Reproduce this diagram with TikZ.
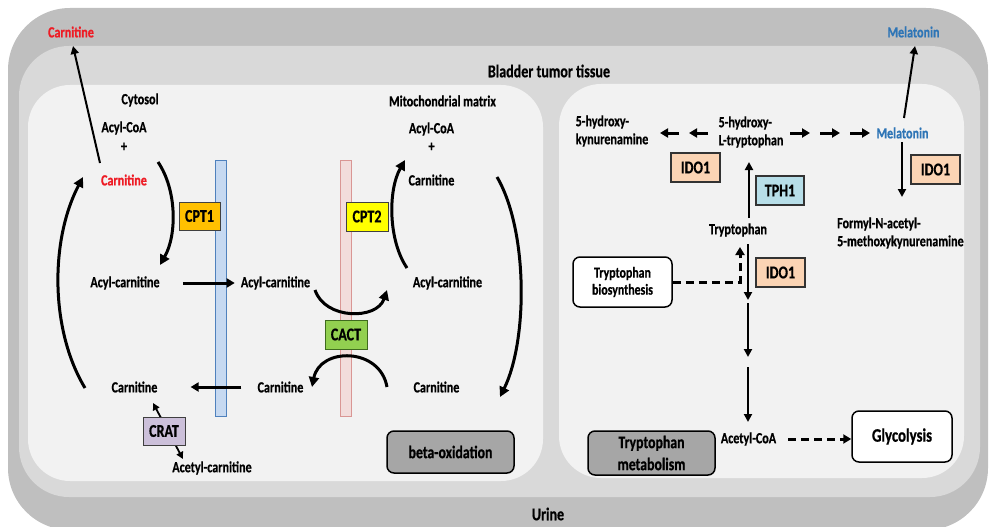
\documentclass[tikz,border=0pt]{standalone}
\usepackage{fontspec}
\setmainfont{Carlito}[FakeStretch=0.78, BoldFeatures={FakeBold=0.6}]
\usetikzlibrary{arrows.meta}
\definecolor{outerg}{HTML}{BFBFBF}
\definecolor{midg}{HTML}{D9D9D9}
\definecolor{innerg}{HTML}{F2F2F2}
\definecolor{cred}{HTML}{EE1C25}
\definecolor{cblue}{HTML}{2E75B6}
\definecolor{procg}{HTML}{A6A6A6}
\definecolor{cpt1c}{HTML}{FFC000}
\definecolor{cpt2c}{HTML}{FFFF00}
\definecolor{cactc}{HTML}{92D050}
\definecolor{cactb}{HTML}{3F6B1E}
\definecolor{cratc}{HTML}{CCC0DA}
\definecolor{idoc}{HTML}{FBD4B4}
\definecolor{tphc}{HTML}{B7DEE8}
\definecolor{mbfill}{HTML}{C6D9F1}
\definecolor{mbdraw}{HTML}{4F81BD}
\definecolor{mpfill}{HTML}{F2DCDB}
\definecolor{mpdraw}{HTML}{D99694}
\begin{document}
\begin{tikzpicture}[x=1pt,y=-1pt,
  every node/.style={inner sep=0pt},
  lbl/.style={font=\bfseries\fontsize{15.5}{18}\selectfont},
  big/.style={font=\bfseries\fontsize{18}{20}\selectfont},
  enz/.style={draw=black!75, line width=1pt, minimum width=42pt, minimum height=29pt, font=\bfseries\fontsize{18}{19}\selectfont},
  ido/.style={enz, fill=idoc, draw=black!80, line width=1.8pt, minimum width=49pt},
  memb/.style={line width=1pt, minimum width=11pt, minimum height=256pt},
  proc/.style={draw=black, line width=1.5pt, rounded corners=7pt, font=\bfseries\fontsize{17.7}{22}\selectfont, align=center},
  arr/.style={-{Triangle[length=8pt,width=8pt]}, line width=2pt},
  harr/.style={-{Triangle[length=8pt,width=9pt]}, line width=3pt},
  curv/.style={-{Triangle[length=10pt,width=10pt]}, line width=3pt},
  dsh/.style={line width=3pt, dash pattern=on 8pt off 5pt},
]
\useasboundingbox (0,0) rectangle (989,527);
% backgrounds
\fill[outerg, rounded corners=62pt] (8,8) rectangle (988,530);
\fill[midg, rounded corners=50pt] (19,46) rectangle (980,497);
\fill[innerg, rounded corners=42pt] (28,85) rectangle (543,481);
\fill[innerg, rounded corners=42pt] (559,84) rectangle (964,478);

% membranes
\node[memb, fill=mbfill, draw=mbdraw] (mb1) at (220.5,288) {};
\node[memb, fill=mpfill, draw=mpdraw] (mb2) at (345.5,288) {};

% titles
\node[lbl, text=cred] (carOut) at (71,32) {Carnitine};
\node[big] (tissue) at (549,71) {Bladder tumor tissue};
\node[big] (urine) at (548,514) {Urine};
\node[lbl, text=cblue] (melOut) at (913.5,32) {Melatonin};

% left panel texts
\node[lbl] (cyto) at (140,100) {Cytosol};
\node[lbl] (acoaL) at (124,128) {Acyl-CoA};
\node[lbl] (plusL) at (124,147) {+};
\node[lbl, text=cred] (carL) at (124,180) {Carnitine};
\node[lbl] (acL) at (125,283) {Acyl-carnitine};
\node[lbl] (acM) at (275.5,283) {Acyl-carnitine};
\node[lbl] (carBL) at (134.5,387) {Carnitine};
\node[lbl] (carBM) at (280.5,387) {Carnitine};
\node[lbl] (acetc) at (212,468) {Acetyl-carnitine};
\node[lbl] (mito) at (442.5,101) {Mitochondrial matrix};
\node[lbl] (acoaR) at (431.5,129) {Acyl-CoA};
\node[lbl] (plusR) at (431.5,147) {+};
\node[lbl] (carR) at (431.5,180) {Carnitine};
\node[lbl] (acR) at (447.5,283) {Acyl-carnitine};
\node[lbl] (carBR) at (436.5,387) {Carnitine};
\node[proc, fill=procg, minimum width=127pt, minimum height=42pt] (beta) at (450.5,452) {beta-oxidation};

% coordinates for curved arrows
\coordinate (lcS) at (85,388);  \coordinate (lcE) at (83,177);
\coordinate (rcS) at (497,177); \coordinate (rcE) at (500,397);
\coordinate (c1S) at (158,162); \coordinate (c1E) at (160,265);
\coordinate (c2S) at (407,268); \coordinate (c2E) at (405,160);
\coordinate (ctS) at (315,290); \coordinate (ctE) at (387,290);
\coordinate (cbS) at (387,387); \coordinate (cbE) at (312,387);
\coordinate (crA) at (153,403); \coordinate (crB) at (183,459);

\draw[curv] (lcS) .. controls (50,330) and (50,240) .. (lcE);
\draw[curv] (rcS) .. controls (528,230) and (528,340) .. (rcE);
\draw[curv] (c1S) .. controls (177,190) and (177,235) .. (c1E);
\draw[curv] (c2S) .. controls (388,240) and (388,190) .. (c2E);
\draw[curv] (ctS) .. controls (325,320) and (377,320) .. (ctE);
\draw[curv] (cbS) .. controls (380,347) and (320,347) .. (cbE);

\coordinate (coT) at (100,163); \coordinate (coH) at (73,46);
\draw[arr] (coT) -- (coH);
\draw[harr] ([xshift=23pt]acL.east) -- ([xshift=-6pt]acM.west);
\draw[harr] ([xshift=-16pt]carBM.west) -- ([xshift=33pt]carBL.east);
\draw[{Triangle[length=7pt,width=7pt]}-{Triangle[length=7pt,width=7pt]}, line width=1.8pt] (crA) -- (crB);

% enzymes
\node[enz, fill=cpt1c, minimum width=41pt, minimum height=28pt] (cpt1) at (199.5,216) {CPT1};
\node[enz, fill=cpt2c] (cpt2) at (367,216.5) {CPT2};
\node[enz, fill=cactc, draw=cactb] (cact) at (346,334.5) {CACT};
\node[enz, fill=cratc, minimum height=28pt] (crat) at (164,431) {CRAT};

% right panel
\node[lbl, align=left] (hkyn) at (612,131) {5-hydroxy-\\kynurenamine};
\node[lbl, align=left] (htrp) at (751,132) {5-hydroxy-\\L-tryptophan};
\node[lbl, text=cblue] (mel) at (902.5,133) {Melatonin};
\node[ido] (ido1) at (695.5,167.5) {IDO1};
\node[ido, fill=tphc, minimum width=48pt] (tph1) at (780,190.5) {TPH1};
\node[ido] (ido2) at (935.5,169.5) {IDO1};
\node[lbl] (trp) at (738,230) {Tryptophan};
\node[lbl, align=left, anchor=west] (formyl) at (837,233) {Formyl-N-acetyl-\\5-methoxykynurenamine};
\node[proc, fill=white, font=\bfseries\fontsize{15.2}{17}\selectfont, minimum width=99pt, minimum height=50pt] (bio) at (622.5,282) {Tryptophan\\biosynthesis};
\node[ido] (ido3) at (780.5,272.5) {IDO1};
\node[lbl] (acoa) at (748.5,439) {Acetyl-CoA};
\node[proc, fill=procg, minimum width=127pt, minimum height=44pt] (trpm) at (651.5,453) {Tryptophan\\metabolism};
\node[proc, fill=white, font=\bfseries\fontsize{19}{21}\selectfont, minimum width=100pt, minimum height=51pt] (glyc) at (902,436.5) {Glycolysis};

\coordinate (k1) at (679,133); \coordinate (k1e) at (660,133);
\coordinate (k2) at (708,133); \coordinate (k2e) at (689,133);
\draw[harr] (k1) -- (k1e);
\draw[harr] (k2) -- (k2e);
\coordinate (m1) at (790,133); \coordinate (m1e) at (810,133);
\coordinate (m2) at (820,133); \coordinate (m2e) at (840,133);
\coordinate (m3) at (850,133); \coordinate (m3e) at (870,133);
\draw[harr] (m1) -- (m1e);
\draw[harr] (m2) -- (m2e);
\draw[harr] (m3) -- (m3e);

\coordinate (t0) at (749,218); \coordinate (t1) at (749,162);
\draw[arr] (t0) -- (t1);
\coordinate (md0) at (902,142); \coordinate (md1) at (902,197);
\draw[arr] (md0) -- (md1);
\coordinate (mu0) at (904,118); \coordinate (mu1) at (915,46);
\draw[arr] (mu0) -- (mu1);

\coordinate (bj) at (740,282); \coordinate (bt) at (740,247);
\draw[dsh, -{Triangle[length=8pt,width=9pt]}] (bio.east) -- (bj) -- (bt);

\coordinate (d0) at (748,244); \coordinate (d1) at (748,300);
\coordinate (d2) at (748,303); \coordinate (d3) at (748,357);
\coordinate (d4) at (748,367); \coordinate (d5) at (748,422);
\draw[arr] (d0) -- (d1);
\draw[arr] (d2) -- (d3);
\draw[arr] (d4) -- (d5);

\draw[dsh, -{Triangle[length=8pt,width=9pt]}] ([xshift=12pt]acoa.east) -- (glyc.west |- acoa.east);
\end{tikzpicture}
\end{document}
